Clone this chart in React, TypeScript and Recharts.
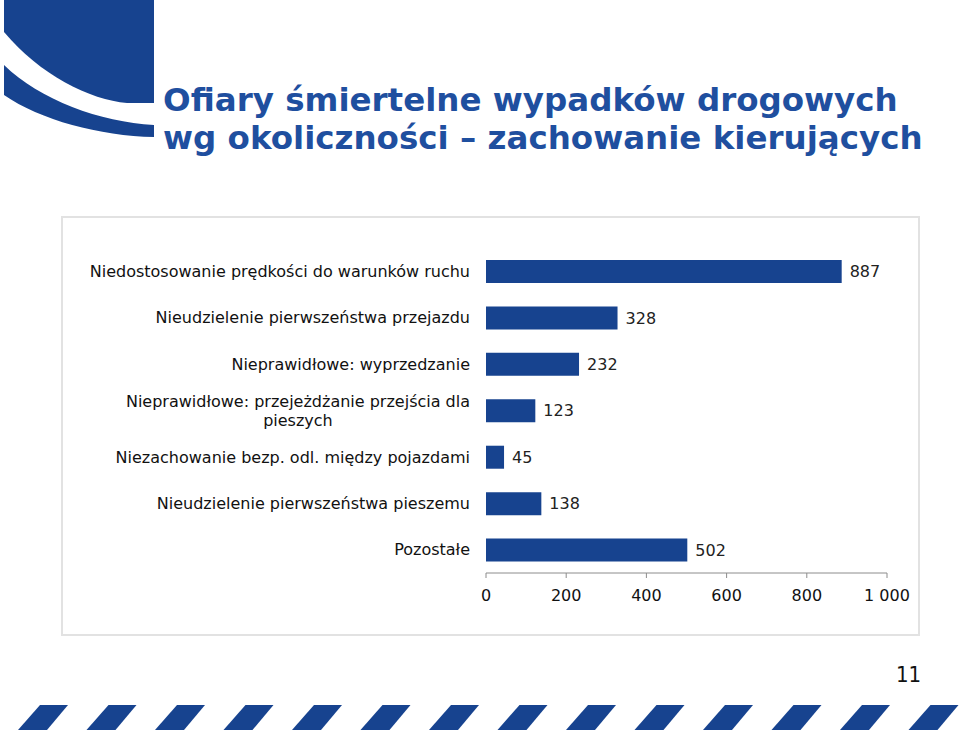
import React from 'react';
import { BarChart, Bar, XAxis, YAxis, LabelList } from 'recharts';

const categories = [
  'Niedostosowanie prędkości do warunków ruchu',
  'Nieudzielenie pierwszeństwa przejazdu',
  'Nieprawidłowe: wyprzedzanie',
  'Nieprawidłowe: przejeżdżanie przejścia dla|pieszych',
  'Niezachowanie bezp. odl. między pojazdami',
  'Nieudzielenie pierwszeństwa pieszemu',
  'Pozostałe',
];
const victims = [887, 328, 232, 123, 45, 138, 502];
const xTicks = [0, 200, 400, 600, 800, 1000];

const chartData = categories.map((name, i) => ({ name, value: victims[i] }));

const BLUE = '#17438f';
const FONT = '"DejaVu Sans", Verdana, sans-serif';

function measure(text: string, font: string) {
  const ctx = document.createElement('canvas').getContext('2d');
  if (!ctx) return text.length * 8;
  ctx.font = font;
  return ctx.measureText(text).width;
}

function CategoryTick(props: any) {
  const { x, y, payload } = props;
  const lines = String(payload.value).split('|');
  const tx = x - 8;
  if (lines.length === 1) {
    return (
      <text x={tx} y={y} dy="0.35em" textAnchor="end" fontSize={16} fontFamily={FONT} fill="#111">
        {lines[0]}
      </text>
    );
  }
  const w = measure(lines[0], `16px ${FONT}`);
  return (
    <text fontSize={16} fontFamily={FONT} fill="#111">
      <tspan x={tx} y={y - 9.5} dy="0.35em" textAnchor="end">{lines[0]}</tspan>
      <tspan x={tx - w / 2} y={y + 9.5} dy="0.35em" textAnchor="middle">{lines[1]}</tspan>
    </text>
  );
}

const fmt = (v: number) => String(v).replace(/\B(?=(\d{3})+(?!\d))/g, ' ');

function Logo() {
  return (
    <svg width={170} height={150} style={{ position: 'absolute', left: 0, top: 0 }}>
      <path d="M4,0 H154 V103 H127 C90,100 40,75 4,32 Z" fill={BLUE} />
      <path d="M4,65 C40,100 100,122 154,125 V137 C100,136 40,120 4,95 Z" fill={BLUE} />
    </svg>
  );
}

function Stripes() {
  const xs = Array.from({ length: 14 }, (_, i) => 18 + 68.5 * i);
  return (
    <svg width={960} height={40} style={{ position: 'absolute', left: 0, top: 700 }}>
      {xs.map((x, i) => (
        <path key={i} d={`M${x},30 L${x + 22},5 L${x + 50},5 L${x + 29},30 Z`} fill={BLUE} />
      ))}
    </svg>
  );
}

export default function App() {
  return (
    <div style={{ position: 'absolute', left: 0, top: 0, width: 960, height: 732, background: '#fff', overflow: 'hidden' }}>
      <Logo />
      <div
        style={{
          position: 'absolute',
          left: 163,
          top: 81,
          fontFamily: FONT,
          fontWeight: 'bold',
          fontSize: 32.5,
          lineHeight: '38px',
          color: '#1f4f9f',
          whiteSpace: 'nowrap',
        }}
      >
        <div>Ofiary śmiertelne wypadków drogowych</div>
        <div>wg okoliczności – zachowanie kierujących</div>
      </div>
      <div
        style={{
          position: 'absolute',
          left: 61,
          top: 216,
          width: 855,
          height: 416,
          border: '2px solid #e2e2e2',
        }}
      />
      <div style={{ position: 'absolute', left: 62, top: 217 }}>
        <BarChart
          width={856}
          height={417}
          data={chartData}
          layout="vertical"
          margin={{ top: 31, right: 31, left: 0, bottom: 31 }}
        >
          <XAxis
            type="number"
            domain={[0, 1000]}
            ticks={xTicks}
            tickFormatter={fmt}
            stroke="#8c8c8c"
            tickSize={5}
            tickMargin={12}
            height={30}
            tick={{ fill: '#111', fontSize: 16, fontFamily: FONT }}
          />
          <YAxis
            type="category"
            dataKey="name"
            width={424}
            axisLine={false}
            tickLine={false}
            tick={<CategoryTick />}
            interval={0}
          />
          <Bar dataKey="value" fill={BLUE} barSize={23} isAnimationActive={false}>
            <LabelList
              dataKey="value"
              position="right"
              offset={8}
              fill="#222"
              fontSize={16}
              fontFamily={FONT}
            />
          </Bar>
        </BarChart>
      </div>
      <div
        style={{
          position: 'absolute',
          left: 896,
          top: 662,
          fontFamily: '"Liberation Sans Narrow", "DejaVu Sans Condensed", sans-serif',
          fontSize: 22,
          color: '#111',
        }}
      >
        11
      </div>
      <Stripes />
    </div>
  );
}
